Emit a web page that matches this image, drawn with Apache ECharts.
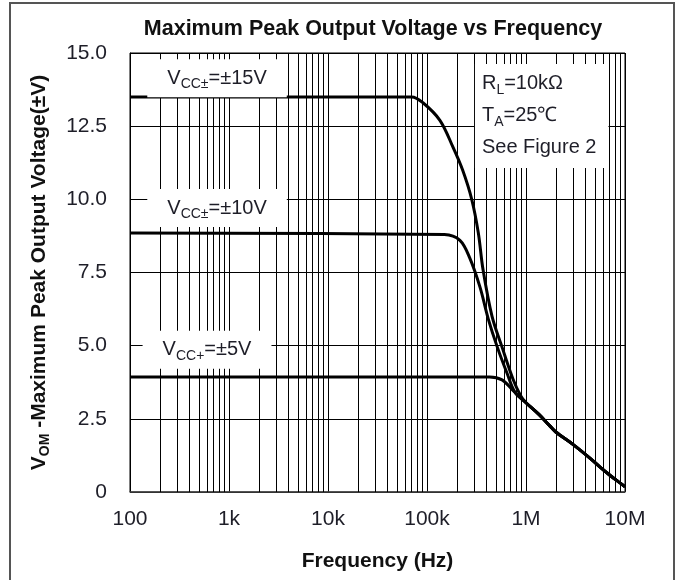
<!DOCTYPE html>
<html><head><meta charset="utf-8">
<script src="https://cdn.jsdelivr.net/npm/echarts@6/dist/echarts.min.js"></script>
<style>html,body{margin:0;padding:0;background:#fff}#c{width:679px;height:580px}</style>
</head><body><div id="c"></div>
<script>
// ---- axis structure ----
const freqTicks = [100, 1000, 10000, 100000, 1000000, 10000000];
const freqTickLabels = ['100', '1k', '10k', '100k', '1M', '10M'];
const minorMultipliers = [2, 3, 4, 5, 6, 7, 8, 9];
const voltMin = 0, voltMax = 15, voltStep = 2.5;

// ---- data (frequency Hz, VOM volts) ----
const curve15V = [[100,13.5],[70000,13.5],[91000,13.3],[135000,12.7],[182000,11.8],[229000,11.0],[283000,10.0],[330000,8.85],[368000,7.6],[454000,6.0],[573000,4.95],[740000,3.85],[880000,3.3],[1000000,3.05]];
const curve10V = [[100,8.85],[150000,8.8],[215000,8.6],[270000,8.0],[343000,7.0],[417000,5.9],[513000,4.95],[645000,4.05],[776000,3.4],[1000000,3.05]];
const curve5V  = [[100,3.93],[430000,3.93],[573000,3.83],[725000,3.5],[880000,3.22],[1000000,3.05]];
const commonTail = [[1350000,2.65],[1750000,2.25],[2000000,2.05],[3000000,1.62],[4450000,1.15],[5600000,0.85],[6600000,0.65],[8900000,0.31],[10000000,0.18]];
const seriesNames = ['VCC±=±15V', 'VCC±=±10V', 'VCC+=±5V'];

// ---- annotations ----
const supplyLabels = ['{m|V}{s|CC±}{m|=±15V}', '{m|V}{s|CC±}{m|=±10V}', '{m|V}{s|CC+}{m|=±5V}'];
const supplyLabelAt = [[757, 14.14], [757, 9.70], [600, 4.86]];
const conditionLines = ['{m|R}{s|L}{m|=10kΩ}', '{m|T}{s|A}{m|=25℃}', '{m|See Figure 2}'];
const conditionAt = [305000, 12.85];

const FONT = 'Liberation Sans, Arial, sans-serif';
const TXT = '#1e1e28';

const minorGrid = [];
for (let i = 0; i < freqTicks.length - 1; i++) {
  minorMultipliers.forEach(k => minorGrid.push({ xAxis: freqTicks[i] * k }));
}

const richSupply = {
  m: { fontSize: 20, fontFamily: FONT, color: TXT, lineHeight: 26 },
  s: { fontSize: 14, fontFamily: FONT, color: TXT, lineHeight: 26, verticalAlign: 'bottom' }
};
const richCond = {
  m: { fontSize: 20, fontFamily: FONT, color: TXT, lineHeight: 32 },
  s: { fontSize: 14, fontFamily: FONT, color: TXT, lineHeight: 32, verticalAlign: 'bottom', padding: [0, 0, 3, 0] }
};

const chart = echarts.init(document.getElementById('c'), null, { renderer: 'canvas' });
chart.setOption({
  animation: false,
  backgroundColor: '#fff',
  title: {
    text: 'Maximum Peak Output Voltage vs Frequency',
    left: 368, top: 13, textAlign: 'center',
    textStyle: { fontFamily: FONT, fontSize: 21.5, fontWeight: 'bold', color: '#111' }
  },
  graphic: [{
    type: 'rect', z: -10, silent: true,
    shape: { x: 10, y: 3, width: 664, height: 620 },
    style: { fill: 'none', stroke: '#555', lineWidth: 2 }
  }],
  grid: { left: 130, top: 53, right: 54, bottom: 88, show: true, borderColor: '#000', borderWidth: 1, backgroundColor: 'transparent' },
  xAxis: {
    type: 'log', logBase: 10, min: freqTicks[0], max: freqTicks[freqTicks.length - 1],
    name: 'Frequency (Hz)', nameLocation: 'middle', nameGap: 59,
    nameTextStyle: { fontFamily: FONT, fontSize: 21, fontWeight: 'bold', color: '#111' },
    axisLine: { show: true, lineStyle: { color: '#444', width: 1.5 } },
    axisTick: { show: false },
    axisLabel: {
      margin: 17, fontFamily: FONT, fontSize: 21, color: TXT,
      formatter: v => { const i = Math.round(Math.log10(v)) - 2; return freqTickLabels[i] ?? ''; }
    },
    splitLine: { show: true, lineStyle: { color: '#000', width: 1 } },
    minorTick: { show: false }, minorSplitLine: { show: false }
  },
  yAxis: {
    type: 'value', min: voltMin, max: voltMax, interval: voltStep,
    name: '{b|V}{bs|OM}{b| -Maximum Peak Output Voltage(±V)}',
    nameLocation: 'middle', nameGap: 78,
    nameTextStyle: {
      rich: {
        b: { fontFamily: FONT, fontSize: 21, fontWeight: 'bold', color: '#111', lineHeight: 26 },
        bs: { fontFamily: FONT, fontSize: 14, fontWeight: 'bold', color: '#111', lineHeight: 26, verticalAlign: 'bottom' }
      }
    },
    axisLine: { show: true, lineStyle: { color: '#000', width: 1 } },
    axisTick: { show: false },
    axisLabel: { margin: 23, fontFamily: FONT, fontSize: 21, color: TXT,
      formatter: v => v === 0 ? '0' : v.toFixed(1) },
    splitLine: { show: true, lineStyle: { color: '#000', width: 1 } }
  },
  series: [
    {
      name: 'minorGrid', type: 'line', data: [], z: 1, silent: true,
      markLine: { silent: true, symbol: 'none', animation: false, label: { show: false },
        lineStyle: { color: '#000', width: 1, type: 'solid' }, data: minorGrid }
    },
    ...[curve15V, curve10V, curve5V].map((c, i) => ({
      name: seriesNames[i], type: 'line', z: 5, showSymbol: false, smooth: 0.35,
      lineStyle: { color: '#000', width: 3 }, data: c.concat(commonTail)
    })),
    {
      name: 'annotations', type: 'scatter', z: 10, symbolSize: 0, silent: true,
      itemStyle: { opacity: 1 },
      data: supplyLabels.map((t, i) => ({
        value: supplyLabelAt[i],
        label: { show: true, opacity: 1, position: 'inside', formatter: t, backgroundColor: '#fff',
          padding: [6, 20, 6, 20], rich: richSupply }
      })).concat([{
        value: conditionAt,
        label: { show: true, opacity: 1, position: 'right', distance: 0, formatter: conditionLines.join('\n'),
          backgroundColor: '#fff', padding: [4, 12, 4, 7], align: 'left', rich: richCond }
      }])
    }
  ]
});
</script></body></html>
